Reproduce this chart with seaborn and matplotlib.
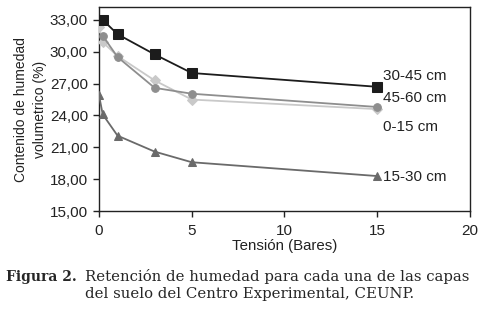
import pandas as pd
import matplotlib.pyplot as plt
import seaborn as sns

sns.set_theme(style='white')
plt.rcParams['font.family'] = ['Liberation Sans', 'DejaVu Sans']

# Tension (bar) and volumetric moisture (%) per soil layer
capas = ['30-45 cm', '45-60 cm', '0-15 cm', '15-30 cm']
x_30_45 = [0.2, 1, 3, 5, 15]
y_30_45 = [33.0, 31.65, 29.75, 28.0, 26.7]
x_45_60 = [0.2, 1, 3, 5, 15]
y_45_60 = [31.5, 29.5, 26.6, 26.05, 24.8]
x_0_15 = [0, 0.2, 1, 3, 5, 15]
y_0_15 = [32.3, 30.9, 29.6, 27.3, 25.5, 24.6]
x_15_30 = [0, 0.2, 1, 3, 5, 15]
y_15_30 = [25.9, 24.1, 22.1, 20.6, 19.6, 18.3]
y_ticks = [15, 18, 21, 24, 27, 30, 33]
x_ticks = [0, 5, 10, 15, 20]

xs = [x_30_45, x_45_60, x_0_15, x_15_30]
ys = [y_30_45, y_45_60, y_0_15, y_15_30]
df = pd.concat([pd.DataFrame({'tension': x, 'humedad': y, 'capa': c})
                for c, x, y in zip(capas, xs, ys)], ignore_index=True)

colores = {'30-45 cm': '#1c1c1c', '45-60 cm': '#8e8e8e',
           '0-15 cm': '#c9c9c9', '15-30 cm': '#6a6a6a'}
marcas = {'30-45 cm': 's', '45-60 cm': 'o', '0-15 cm': 'D', '15-30 cm': '^'}
tamanos = {'30-45 cm': 6.5, '45-60 cm': 5.5, '0-15 cm': 5, '15-30 cm': 6}
label_y = {'30-45 cm': 27.7, '45-60 cm': 25.6, '0-15 cm': 22.9, '15-30 cm': 18.2}

fig = plt.figure(figsize=(4.83, 3.10), dpi=100)
ax = fig.add_axes([0.205, 0.319, 0.768, 0.658])

for c in ['0-15 cm', '45-60 cm', '15-30 cm', '30-45 cm']:
    sub = df[df['capa'] == c]
    sns.lineplot(data=sub, x='tension', y='humedad', ax=ax, color=colores[c],
                 marker=marcas[c], markersize=tamanos[c], markeredgecolor=colores[c],
                 linewidth=1.3, sort=False, legend=False, zorder=3)
    ax.text(15.3, label_y[c], c, fontsize=11, va='center', ha='left', color='#222222')

ax.set_xlim(0, 20)
ax.set_ylim(15, 34.2)
ax.set_xticks(x_ticks)
ax.set_yticks(y_ticks)
ax.set_yticklabels([f'{v:.2f}'.replace('.', ',') for v in y_ticks])
ax.tick_params(axis='both', direction='out', length=4, width=1, labelsize=11,
               colors='#222222', bottom=True, left=True)
ax.tick_params(axis='x', pad=5)
ax.tick_params(axis='y', pad=4)
for s in ax.spines.values():
    s.set_color('#222222')
    s.set_linewidth(1)

ax.set_xlabel('Tensión (Bares)', fontsize=10.8, labelpad=1, color='#222222')
ax.set_ylabel('Contenido de humedad\nvolumetrico (%)', fontsize=10,
              labelpad=2, color='#222222', linespacing=1.5)

fig.text(0.012, 0.094, 'Figura 2.', family='DejaVu Serif', fontweight='bold',
         fontsize=10, va='baseline', ha='left')
fig.text(0.176, 0.094, 'Retención de humedad para cada una de las capas',
         family='DejaVu Serif', fontsize=10.75, va='baseline', ha='left')
fig.text(0.176, 0.039, 'del suelo del Centro Experimental, CEUNP.',
         family='DejaVu Serif', fontsize=10.75, va='baseline', ha='left')

plt.savefig('out.png', dpi=100)
